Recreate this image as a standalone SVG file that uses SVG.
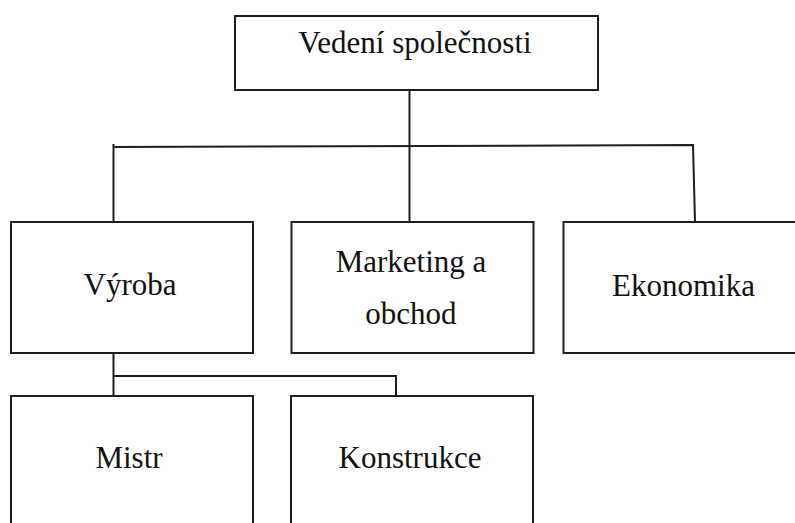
<svg xmlns="http://www.w3.org/2000/svg" width="795" height="523" viewBox="0 0 795 523">
  <style>
    .box { fill: #ffffff; stroke: #1e1e1e; stroke-width: 2; }
    .label { font-size: 31px; fill: #111111; text-anchor: middle; }
    .wire { fill: none; stroke: #1e1e1e; stroke-width: 2; }
  </style>
  <rect x="0" y="0" width="795" height="523" fill="#ffffff"/>

  <!-- connectors -->
  <g id="connectors">
    <line class="wire" x1="409.5" y1="90" x2="409.5" y2="222"/>
    <polyline class="wire" points="113.5,222 113.5,144 113.5,147 693,145 695,222"/>
    <line class="wire" x1="113.5" y1="353" x2="113.5" y2="396"/>
    <polyline class="wire" points="113.5,376 396,376 396,396"/>
  </g>

  <g font-family="'Liberation Serif', 'DejaVu Serif', serif">
    <g id="vedeni">
      <rect class="box" x="235" y="16" width="363" height="74"/>
      <text class="label" x="415" y="53">Vedení společnosti</text>
    </g>

    <g id="vyroba">
      <rect class="box" x="11" y="222" width="242" height="131"/>
      <text class="label" x="130" y="295">Výroba</text>
    </g>

    <g id="marketing">
      <rect class="box" x="291.5" y="222" width="242" height="131"/>
      <text class="label" x="411" y="272">Marketing a</text>
      <text class="label" x="411" y="324">obchod</text>
    </g>

    <g id="ekonomika">
      <rect class="box" x="563.5" y="222" width="242" height="131"/>
      <text class="label" x="683.5" y="296">Ekonomika</text>
    </g>

    <g id="mistr">
      <rect class="box" x="11" y="396" width="242" height="140"/>
      <text class="label" x="129" y="468">Mistr</text>
    </g>

    <g id="konstrukce">
      <rect class="box" x="291" y="396" width="242" height="140"/>
      <text class="label" x="410" y="468">Konstrukce</text>
    </g>
  </g>
</svg>
